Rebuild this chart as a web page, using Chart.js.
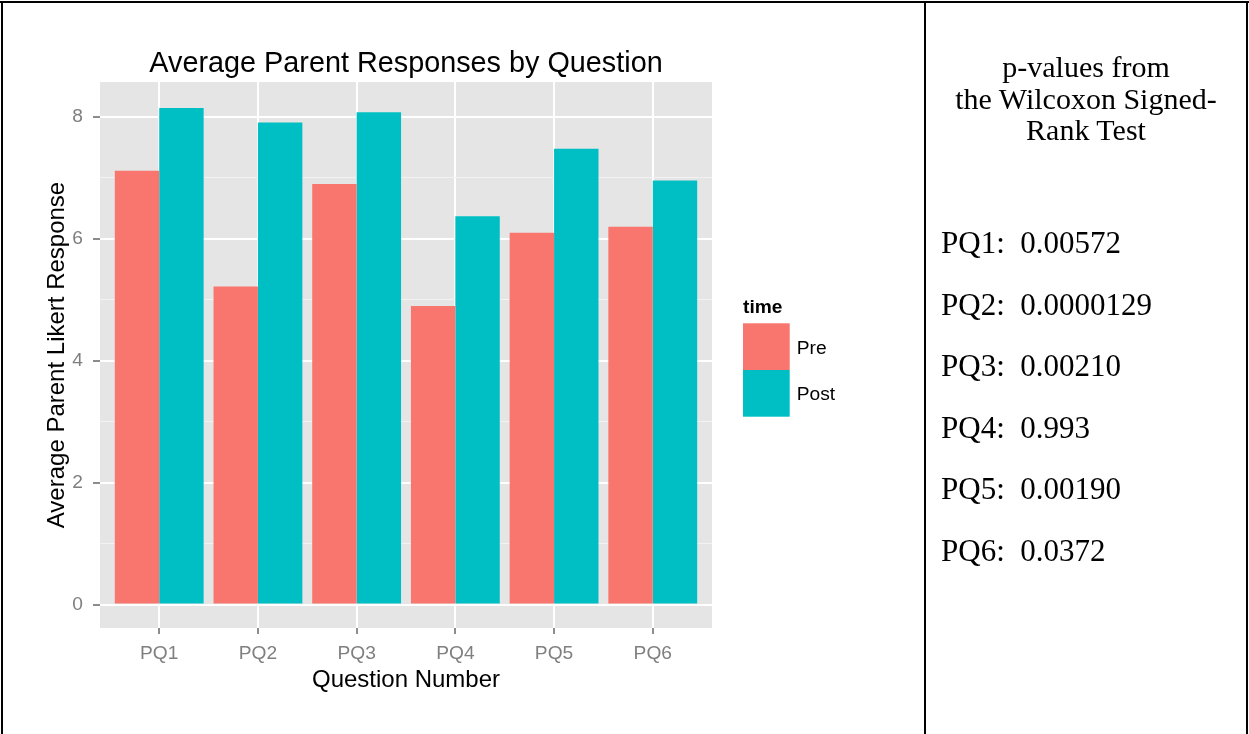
<!DOCTYPE html>
<html>
<head>
<meta charset="utf-8">
<script src="https://cdn.jsdelivr.net/npm/chart.js@4.4.1/dist/chart.umd.min.js"></script>
<style>
  html, body { margin: 0; padding: 0; background: #ffffff; }
  #page { position: relative; width: 1249px; height: 734px; overflow: hidden; background: #ffffff; }
  #chart { position: absolute; left: 0; top: 0; }
  .line { position: absolute; background: #000000; }
  #pvals { position: absolute; left: 926px; top: 0; width: 320px; height: 734px;
           font-family: "Liberation Serif", "Times New Roman", serif; color: #000; }
  #pvHead { position: absolute; left: 0; top: 51px; width: 320px; text-align: center;
            font-size: 30px; line-height: 31.5px; }
  #pvList { position: absolute; left: 15px; top: 212px; font-size: 31px; line-height: 61.6px; white-space: pre; }
</style>
</head>
<body>
<div id="page">
  <canvas id="chart" width="924" height="734"></canvas>
  <div class="line" style="left:0; top:1px; width:1249px; height:2px;"></div>
  <div class="line" style="left:1px; top:1px; width:2px; height:733px;"></div>
  <div class="line" style="left:924px; top:1px; width:2px; height:733px;"></div>
  <div class="line" style="left:1246px; top:1px; width:2px; height:733px;"></div>
  <div id="pvals">
    <div id="pvHead"></div>
    <div id="pvList"></div>
  </div>
</div>
<script>
// ---- data ----
const categories = ["PQ1", "PQ2", "PQ3", "PQ4", "PQ5", "PQ6"];
const preValues  = [7.12, 5.22, 6.90, 4.90, 6.10, 6.20];
const postValues = [8.15, 7.91, 8.08, 6.37, 7.48, 6.96];
const seriesNames = ["Pre", "Post"];
const legendTitle = "time";
const yMajorTicks = [0, 2, 4, 6, 8];
const yMinorTicks = [1, 3, 5, 7];
const chartTitle = "Average Parent Responses by Question";
const xTitle = "Question Number";
const yTitle = "Average Parent Likert Response";
const pTitleLines = ["p-values from", "the Wilcoxon Signed-", "Rank Test"];
const pLabels = ["PQ1", "PQ2", "PQ3", "PQ4", "PQ5", "PQ6"];
const pValues = ["0.00572", "0.0000129", "0.00210", "0.993", "0.00190", "0.0372"];

// ---- right-hand text cell ----
document.getElementById('pvHead').innerHTML = pTitleLines.join('<br>');
document.getElementById('pvList').textContent =
  pLabels.map((l, i) => l + ':  ' + pValues[i]).join('\n');

// ---- chart ----
const FONT = "'Liberation Sans', Arial, Helvetica, sans-serif";
Chart.defaults.font.family = FONT;

const xPositions = categories.map((c, i) => i + 1);
const yTickValues = yMajorTicks.concat(yMinorTicks).sort((a, b) => a - b);
const isMajor = v => yMajorTicks.indexOf(v) >= 0;

const panelBg = {
  id: 'panelBg',
  beforeDraw(chart) {
    const {ctx, chartArea: a} = chart;
    ctx.save();
    ctx.fillStyle = '#E5E5E5';
    ctx.fillRect(a.left, a.top, a.right - a.left, a.bottom - a.top);
    ctx.restore();
  }
};

const ggLegend = {
  id: 'ggLegend',
  afterDraw(chart) {
    const {ctx, chartArea: a} = chart;
    const x0 = a.right + 31;
    ctx.save();
    ctx.fillStyle = '#000';
    ctx.textBaseline = 'alphabetic';
    ctx.textAlign = 'left';
    ctx.font = "bold 19.2px " + FONT;
    ctx.fillText(legendTitle, x0, 313);
    const key = 46.7;
    let y = 323.3;
    ctx.font = "19.2px " + FONT;
    chart.data.datasets.forEach(ds => {
      ctx.fillStyle = ds.backgroundColor;
      ctx.fillRect(x0, y, key, key);
      ctx.fillStyle = '#000';
      ctx.fillText(ds.label, x0 + key + 7, y + key / 2 + 7);
      y += key;
    });
    ctx.restore();
  }
};

new Chart(document.getElementById('chart'), {
  type: 'bar',
  data: {
    datasets: [
      { label: seriesNames[0], data: preValues.map((v, i) => ({x: xPositions[i], y: v})),
        backgroundColor: '#F8766D', borderWidth: 0 },
      { label: seriesNames[1], data: postValues.map((v, i) => ({x: xPositions[i], y: v})),
        backgroundColor: '#00BFC4', borderWidth: 0 }
    ]
  },
  options: {
    responsive: false,
    animation: false,
    devicePixelRatio: 1,
    categoryPercentage: 0.9,
    barPercentage: 1.0,
    layout: { padding: { left: 0, right: 212, top: 0, bottom: 0 } },
    plugins: {
      legend: { display: false },
      tooltip: { enabled: false },
      title: {
        display: true, text: chartTitle, fullSize: false,
        color: '#000', font: { size: 28.8, weight: 'normal', lineHeight: 1.2 },
        padding: { top: 46.6, bottom: 0.84 }
      }
    },
    scales: {
      x: {
        type: 'linear', min: 0.4, max: 6.6, offset: false,
        afterBuildTicks: s => { s.ticks = xPositions.map(v => ({value: v})); },
        afterFit: s => { s.height = 106; },
        border: { display: false },
        grid: { offset: false, drawTicks: true, color: '#FFFFFF', lineWidth: 2,
                tickColor: '#8C8C8C', tickWidth: 2, tickLength: 6 },
        ticks: {
          color: '#7F7F7F', font: { size: 19.2 }, padding: 8.5, maxRotation: 0,
          callback: v => categories[Math.round(v) - 1]
        },
        title: { display: true, text: xTitle, color: '#000', font: { size: 24, lineHeight: 1.2 },
                 padding: { top: 0, bottom: 39 } }
      },
      y: {
        type: 'linear', min: -0.385, max: 8.575,
        afterBuildTicks: s => { s.ticks = yTickValues.map(v => ({value: v})); },
        afterFit: s => { s.width = 100; },
        border: { display: false },
        grid: {
          offset: false,
          color: c => isMajor(c.tick.value) ? '#FFFFFF' : '#F2F2F2',
          lineWidth: c => isMajor(c.tick.value) ? 2 : 1,
          tickColor: c => isMajor(c.tick.value) ? '#8C8C8C' : 'rgba(0,0,0,0)',
          tickWidth: 2, tickLength: 7
        },
        ticks: {
          color: '#7F7F7F', font: { size: 19.2 }, padding: 10,
          callback: v => isMajor(v) ? String(v) : ''
        },
        title: { display: true, text: yTitle, color: '#000', font: { size: 24, lineHeight: 1.2 },
                 padding: { top: 43.2, bottom: 0 } }
      }
    }
  },
  plugins: [panelBg, ggLegend]
});
</script>
</body>
</html>
